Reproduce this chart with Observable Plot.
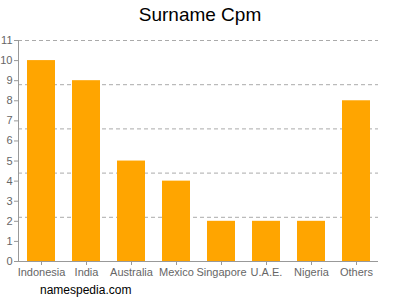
<!DOCTYPE html>
<html><head><meta charset="utf-8">
<script src="https://cdn.jsdelivr.net/npm/d3@7"></script>
<script src="https://cdn.jsdelivr.net/npm/@observablehq/plot@0.6"></script>
<style>
body{margin:0;background:#fff;font-family:"Liberation Sans",Arial,sans-serif;}
#wrap{position:relative;width:400px;height:300px;}
#title{position:absolute;left:0;top:4px;width:400px;text-align:center;font-size:19px;color:#000;}
#foot{position:absolute;left:40px;top:283px;font-size:12px;color:#000;}
#chart{position:absolute;left:0;top:0;}
</style></head>
<body><div id="wrap"><div id="chart"></div><div id="title">Surname Cpm</div><div id="foot">namespedia.com</div></div>
<script>
const categories = ["Indonesia","India","Australia","Mexico","Singapore","U.A.E.","Nigeria","Others"];
const values = [10,9,5,4,2,2,2,8];
const yTicks = [0,1,2,3,4,5,6,7,8,9,10,11];
const gridLines = [2.2,4.4,6.6,8.8,11];
const data = categories.map((c,i)=>({c, v: values[i]}));
const plot = Plot.plot({
  width: 400, height: 300,
  marginLeft: 18, marginRight: 22, marginTop: 40, marginBottom: 39,
  style: {fontFamily: '"Liberation Sans", Arial, sans-serif', fontSize: "11px", color: "#666", background: "transparent"},
  x: {domain: categories, paddingInner: 0.38, paddingOuter: 0.19, label: null},
  y: {domain: [0, 11], label: null},
  marks: [
    Plot.ruleY(gridLines, {stroke: "#aaa", strokeDasharray: "4,3", strokeWidth: 1}),
    Plot.barY(data, {x: "c", y: "v", fill: "#FFA500"}),
    Plot.ruleY([0], {stroke: "#999"}),
    Plot.frame({anchor: "left", stroke: "#999"}),
    Plot.axisY({ticks: yTicks, tickSize: 4, tickPadding: 2, stroke: "#999", tickFormat: d => d, fill: "#666"}),
    Plot.axisX({tickSize: 4, tickPadding: 3, stroke: "#999", fill: "#666"})
  ]
});
document.getElementById("chart").appendChild(plot);
</script>
</body></html>
